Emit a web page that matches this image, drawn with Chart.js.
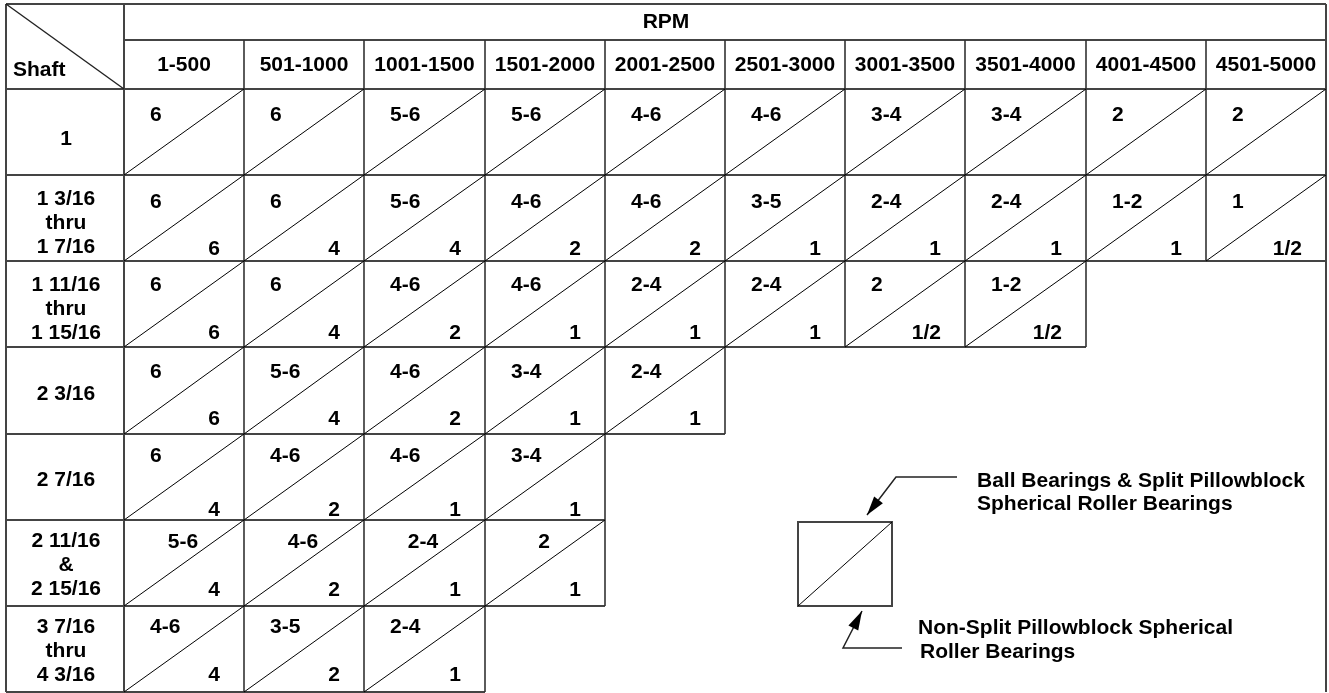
<!DOCTYPE html>
<html>
<head>
<meta charset="utf-8">
<script src="https://cdn.jsdelivr.net/npm/chart.js@4.4.0/dist/chart.umd.min.js"></script>
<style>
  html, body { margin: 0; padding: 0; background: #fff; }
  canvas { display: block; }
</style>
</head>
<body>
<canvas id="table" width="1329" height="693"></canvas>
<script>
// les données du tableau
var headerTitle = 'RPM';
var cornerLabel = 'Shaft';
var rpmRanges = ['1-500', '501-1000', '1001-1500', '1501-2000', '2001-2500',
                 '2501-3000', '3001-3500', '3501-4000', '4001-4500', '4501-5000'];
var shaftSizes = [
    ['1'],
    ['1 3/16', 'thru', '1 7/16'],
    ['1 11/16', 'thru', '1 15/16'],
    ['2 3/16'],
    ['2 7/16'],
    ['2 11/16', '&', '2 15/16'],
    ['3 7/16', 'thru', '4 3/16']
];
// valeur du haut : Ball Bearings & Split Pillowblock
var ballSplit = [
    ['6', '6', '5-6', '5-6', '4-6', '4-6', '3-4', '3-4', '2', '2'],
    ['6', '6', '5-6', '4-6', '4-6', '3-5', '2-4', '2-4', '1-2', '1'],
    ['6', '6', '4-6', '4-6', '2-4', '2-4', '2', '1-2'],
    ['6', '5-6', '4-6', '3-4', '2-4'],
    ['6', '4-6', '4-6', '3-4'],
    ['5-6', '4-6', '2-4', '2'],
    ['4-6', '3-5', '2-4']
];
// valeur du bas : Non-Split Pillowblock
var nonSplit = [
    [],
    ['6', '4', '4', '2', '2', '1', '1', '1', '1', '1/2'],
    ['6', '4', '2', '1', '1', '1', '1/2', '1/2'],
    ['6', '4', '2', '1', '1'],
    ['4', '2', '1', '1'],
    ['4', '2', '1', '1'],
    ['4', '2', '1']
];
var legendTop = ['Ball Bearings & Split Pillowblock', 'Spherical Roller Bearings'];
var legendBottom = ['Non-Split Pillowblock Spherical', 'Roller Bearings'];

// mise en page
var font = 'bold 21px "Liberation Sans", Arial, sans-serif';
var gridColor = '#444';
var topOffset = [26, 27, 24, 25, 22, 22, 21];
var bottomOffset = [0, 12, 14, 15, 10, 16, 17];
var shaftOffset = [7, 5, 5, 4, 3, 2, 2];

function line(ctx, x1, y1, x2, y2, w, color) {
    ctx.beginPath();
    ctx.lineWidth = w;
    ctx.strokeStyle = color;
    ctx.moveTo(x1, y1);
    ctx.lineTo(x2, y2);
    ctx.stroke();
}

function arrow(ctx, pts) {
    ctx.beginPath();
    ctx.lineWidth = 1.5;
    ctx.strokeStyle = '#222';
    ctx.moveTo(pts[0][0], pts[0][1]);
    for (var i = 1; i < pts.length; i++) ctx.lineTo(pts[i][0], pts[i][1]);
    ctx.stroke();
    // la pointe
    var a = pts[pts.length - 2], b = pts[pts.length - 1];
    var dx = b[0] - a[0], dy = b[1] - a[1];
    var len = Math.sqrt(dx * dx + dy * dy);
    var ux = dx / len, uy = dy / len;
    var hl = 19, hw = 5.5;
    ctx.beginPath();
    ctx.fillStyle = '#000';
    ctx.moveTo(b[0], b[1]);
    ctx.lineTo(b[0] - ux * hl - uy * hw, b[1] - uy * hl + ux * hw);
    ctx.lineTo(b[0] - ux * hl + uy * hw, b[1] - uy * hl - ux * hw);
    ctx.closePath();
    ctx.fill();
}

var tablePlugin = {
    id: 'tablePlugin',
    afterDraw: function(chart) {
        var ctx = chart.ctx;
        var xs = chart.scales.x;
        var ys = chart.scales.y;
        var X = function(v) { return Math.round(xs.getPixelForValue(v)); };
        var Y = function(v) { return Math.round(ys.getPixelForValue(v)); };
        var left = 6, top = 4, headMid = 40;
        var right = X(rpmRanges.length);
        var bottom = Y(shaftSizes.length);
        ctx.save();

        // en-tête
        line(ctx, left, top, right, top, 2, gridColor);
        line(ctx, X(0), headMid, right, headMid, 2, gridColor);
        line(ctx, left, Y(0), right, Y(0), 2, gridColor);
        line(ctx, left, top, left, bottom, 2, gridColor);
        line(ctx, X(0), top, X(0), bottom, 2, gridColor);
        line(ctx, right, top, right, bottom, 2, gridColor);
        for (var c = 1; c < rpmRanges.length; c++) {
            line(ctx, X(c), headMid, X(c), Y(0), 1.6, '#333');
        }
        line(ctx, left, top, X(0), Y(0), 1.4, '#222');

        ctx.fillStyle = '#000';
        ctx.font = font;
        ctx.textBaseline = 'middle';
        ctx.textAlign = 'center';
        ctx.fillText(headerTitle, 666, 22);
        rpmRanges.forEach(function(r, i) {
            ctx.fillText(r, (X(i) + X(i + 1)) / 2, 65);
        });
        ctx.textAlign = 'left';
        ctx.fillText(cornerLabel, 13, 70);

        // les lignes du tableau
        shaftSizes.forEach(function(names, r) {
            var n = ballSplit[r].length;
            var y0 = Y(r), y1 = Y(r + 1);
            line(ctx, left, y1, X(n), y1, 2, gridColor);
            for (var c = 1; c <= n; c++) {
                if (c < rpmRanges.length) line(ctx, X(c), y0, X(c), y1, 1.6, '#333');
            }
            ctx.textAlign = 'center';
            var mid = (y0 + y1) / 2 + shaftOffset[r];
            names.forEach(function(t, k) {
                ctx.fillText(t, (left + X(0)) / 2 + 1, mid + (k - (names.length - 1) / 2) * 24);
            });
            for (var c = 0; c < n; c++) {
                line(ctx, X(c), y1, X(c + 1), y0, 1, '#000');
                if (r === 5) {
                    ctx.textAlign = 'center';
                    ctx.fillText(ballSplit[r][c], X(c) + 59, y0 + topOffset[r]);
                } else {
                    ctx.textAlign = 'left';
                    ctx.fillText(ballSplit[r][c], X(c) + 26, y0 + topOffset[r]);
                }
                if (nonSplit[r][c]) {
                    ctx.textAlign = 'right';
                    ctx.fillText(nonSplit[r][c], X(c + 1) - 24, y1 - bottomOffset[r]);
                }
            }
        });

        // la légende
        ctx.lineWidth = 2;
        ctx.strokeStyle = gridColor;
        ctx.strokeRect(798, 522, 94, 84);
        line(ctx, 798, 606, 892, 522, 1, '#000');
        arrow(ctx, [[957, 477], [896, 477], [867, 515]]);
        arrow(ctx, [[902, 648], [843, 648], [862, 611]]);
        ctx.textAlign = 'left';
        ctx.fillStyle = '#000';
        ctx.fillText(legendTop[0], 977, 481);
        ctx.fillText(legendTop[1], 977, 504);
        ctx.fillText(legendBottom[0], 918, 628);
        ctx.fillText(legendBottom[1], 920, 652);
        ctx.restore();
    }
};

var tableConfig = {
    type: 'scatter',
    data: { datasets: [] },
    options: {
        responsive: false,
        animation: false,
        devicePixelRatio: 1,
        layout: { padding: { left: 124, right: 3, top: 89, bottom: 1 } },
        plugins: { legend: { display: false }, tooltip: { enabled: false } },
        scales: {
            x: { type: 'linear', min: 0, max: rpmRanges.length, display: false },
            y: { type: 'linear', min: 0, max: shaftSizes.length, reverse: true, display: false }
        }
    },
    plugins: [tablePlugin]
};

var tableCtx = document.getElementById('table');
window.myTable = new Chart(tableCtx, tableConfig);
</script>
</body>
</html>
